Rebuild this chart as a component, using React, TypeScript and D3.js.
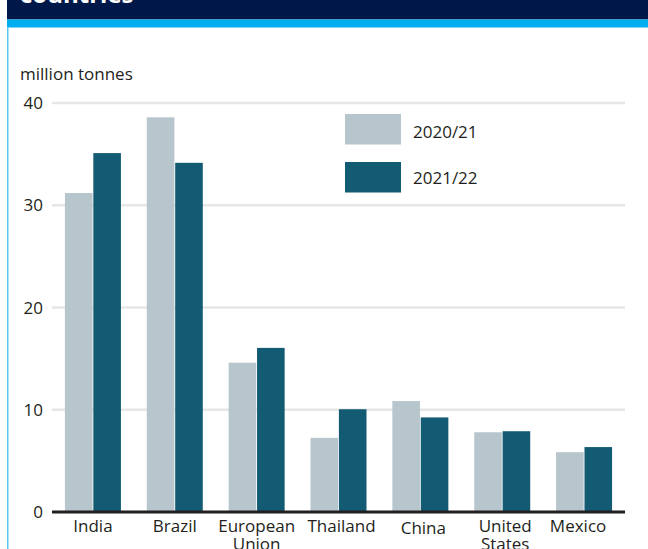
import React from "react";
import * as d3 from "d3";

const categories: string[][] = [
  ["India"],
  ["Brazil"],
  ["European", "Union"],
  ["Thailand"],
  ["China"],
  ["United", "States"],
  ["Mexico"],
];
const series2020: number[] = [31.2, 38.6, 14.6, 7.25, 10.85, 7.8, 5.85];
const series2021: number[] = [35.1, 34.15, 16.05, 10.05, 9.25, 7.9, 6.35];
const seriesNames: string[] = ["2020/21", "2021/22"];
const yTicks: number[] = [0, 10, 20, 30, 40];

const W = 648;
const H = 549;
const FONT = "'Open Sans', sans-serif";
const TEXT = "#231f20";
const LIGHT = "#b7c5cd";
const DARK = "#135b73";
// small horizontal label nudges seen in the reference
const labelDx = [0, 0, 0, 3, 3, 3, -6];
const labelDy = [0, 0, 0, 0, 2, 0, 0];

export default function App() {
  const x = d3
    .scaleBand<number>()
    .domain(d3.range(categories.length))
    .range([52, 625])
    .paddingInner(0)
    .paddingOuter(0);
  const y = d3.scaleLinear().domain([0, 40]).range([512, 103]);
  const barW = 27.6;
  const gap = 0.8;
  const series = [series2020, series2021];
  const colors = [LIGHT, DARK];

  return (
    <div style={{ position: "fixed", left: 0, top: 0 }}>
      <svg width={W} height={H} style={{ display: "block" }}>
        <rect x={0} y={0} width={W} height={H} fill="#fff" />
        {/* banner */}
        <rect x={7} y={0} width={W - 7} height={19.5} fill="#001849" />
        <rect x={7} y={19.5} width={W - 7} height={8} fill="#00adef" />
        <rect x={7} y={27.5} width={1.5} height={H - 27.5} fill="#5bc6f0" />
        <text
          x={20}
          y={3}
          fill="#fff"
          fontFamily={FONT}
          fontWeight={700}
          fontSize={24}
        >
          countries
        </text>

        {/* y label */}
        <text x={20} y={80} fill={TEXT} fontFamily={FONT} fontSize={17}>
          million tonnes
        </text>

        {/* grid */}
        {yTicks
          .filter((t) => t > 0)
          .map((t) => (
            <line
              key={t}
              x1={52}
              x2={625}
              y1={y(t)}
              y2={y(t)}
              stroke="#e6e6e6"
              strokeWidth={2.5}
            />
          ))}
        {yTicks.map((t) => (
          <text
            key={t}
            x={43}
            y={y(t) + 6}
            textAnchor="end"
            fill={TEXT}
            fontFamily={FONT}
            fontSize={17}
          >
            {t}
          </text>
        ))}

        {/* bars */}
        {categories.map((c, i) => {
          const cx = (x(i) as number) + x.bandwidth() / 2;
          return series.map((s, j) => {
            const bx = j === 0 ? cx - gap / 2 - barW : cx + gap / 2;
            return (
              <rect
                key={`${i}-${j}`}
                x={bx}
                y={y(s[i])}
                width={barW}
                height={y(0) - y(s[i])}
                fill={colors[j]}
              />
            );
          });
        })}

        {/* axis */}
        <line x1={52} x2={625} y1={y(0)} y2={y(0)} stroke={TEXT} strokeWidth={3} />

        {/* category labels */}
        {categories.map((c, i) => {
          const cx = (x(i) as number) + x.bandwidth() / 2 + labelDx[i];
          return (
            <text
              key={i}
              x={cx}
              y={532 + labelDy[i]}
              textAnchor="middle"
              fill={TEXT}
              fontFamily={FONT}
              fontSize={17}
            >
              {c.map((line, k) => (
                <tspan key={k} x={cx} dy={k === 0 ? 0 : 18}>
                  {line}
                </tspan>
              ))}
            </text>
          );
        })}

        {/* legend */}
        {seriesNames.map((n, j) => (
          <g key={n}>
            <rect x={345} y={114 + j * 48} width={56} height={30.5} fill={colors[j]} />
            <text
              x={413}
              y={137.5 + j * 46}
              fill={TEXT}
              fontFamily={FONT}
              fontSize={17}
            >
              {n}
            </text>
          </g>
        ))}
      </svg>
    </div>
  );
}
